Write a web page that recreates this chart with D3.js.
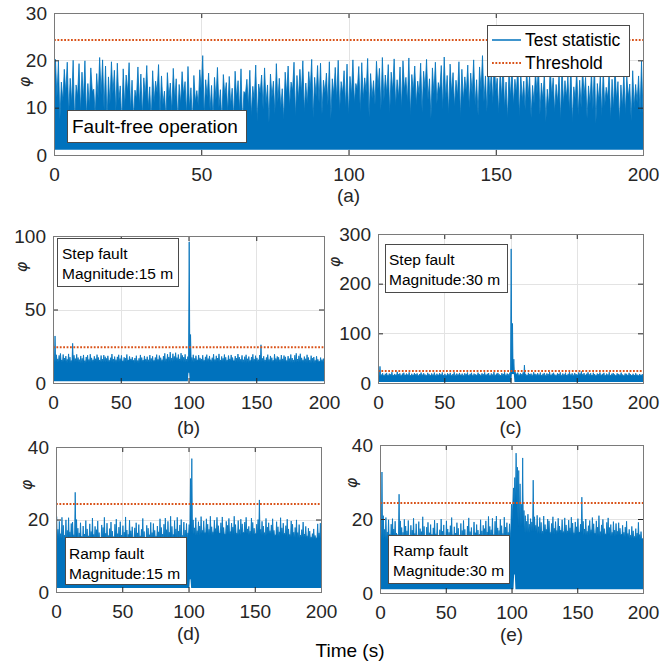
<!DOCTYPE html>
<html>
<head>
<meta charset="utf-8">
<script src="https://cdn.jsdelivr.net/npm/d3@7"></script>
<style>
  body { margin: 0; background: #fff; }
  svg { display: block; font-family: "Liberation Sans", Arial, Helvetica, sans-serif; }
</style>
</head>
<body>
<svg id="fig" width="672" height="664"></svg>
<script>
// ---- data -----------------------------------------------------------------
const timeTicks = [0, 50, 100, 150, 200];
const threshold = 24.3;

// per-second maxima of the test statistic, 0..199 s
const peaksA = [
  20.2,19.8,15.4,18.1,19.6,16.2,20.0,14.8,19.3,17.5,19.9,15.1,18.4,13.9,17.2,20.6,20.1,18.8,16.5,19.7,
  17.9,19.4,14.6,18.2,16.9,19.5,15.8,13.7,18.6,17.1,16.3,18.9,14.4,17.8,15.6,19.1,16.7,13.5,17.4,15.2,
  18.3,16.1,14.9,17.6,15.5,18.7,14.2,16.8,13.6,18.0,21.0,15.9,17.3,14.7,16.4,18.5,13.8,17.0,15.3,16.6,
  14.1,17.7,15.7,18.2,13.4,16.0,17.9,14.5,19.0,15.0,16.9,18.4,14.8,17.1,15.6,19.3,16.2,14.0,17.5,18.8,
  15.4,19.6,16.8,18.1,19.9,15.2,17.6,20.2,16.4,18.9,19.4,15.8,17.3,19.7,16.1,18.5,20.0,15.5,17.8,19.2,
  16.6,20.1,15.1,18.7,19.5,16.3,20.4,17.2,15.7,19.8,18.3,20.6,16.9,19.1,17.5,20.3,15.9,18.6,19.9,16.4,
  20.5,17.0,18.8,15.6,19.4,17.7,20.2,16.1,18.4,19.6,15.3,18.9,20.7,16.8,19.2,17.4,15.8,19.7,18.1,16.5,
  19.0,17.3,20.1,15.9,18.6,21.0,16.7,19.3,17.9,20.4,16.2,18.0,19.5,15.4,17.6,18.8,16.0,19.1,17.2,15.6,
  18.3,16.9,14.7,17.8,19.0,15.2,17.4,13.9,18.6,16.3,14.9,17.1,18.9,15.7,16.6,19.2,14.4,17.9,15.8,18.2,
  16.4,14.6,17.7,19.3,15.1,16.8,18.0,14.3,17.5,16.0,18.7,15.5,14.8,17.2,16.5,15.0,17.8,14.9,16.7,19.8
];
// per-second minima of the upper fluctuation in the fault-free run
const troughsA = [
  9.8,12.1,7.4,11.3,13.0,8.6,10.9,6.8,12.4,9.1,11.7,7.9,10.2,13.4,8.3,11.9,12.6,9.5,7.2,10.7,
  12.9,8.8,11.4,6.5,10.1,13.2,9.3,7.7,11.8,10.4,8.1,12.3,9.7,6.9,11.0,13.1,8.4,10.6,7.5,12.0,
  9.0,11.5,7.1,10.8,12.7,8.5,9.9,6.6,11.2,10.3,13.3,8.0,12.2,9.4,7.3,11.6,10.0,6.7,12.5,8.9,
  10.5,7.6,11.9,9.2,6.4,12.8,10.1,8.2,11.4,7.0,13.0,9.6,10.7,6.8,12.1,8.7,11.1,9.8,7.4,12.6,
  10.2,13.5,8.0,11.7,12.9,9.0,10.8,13.6,7.8,12.3,11.0,8.6,13.1,10.4,7.5,12.7,11.5,9.3,13.0,10.0,
  8.4,12.5,10.9,13.8,9.1,11.8,13.2,7.9,12.0,10.6,13.9,9.4,11.3,12.8,8.8,13.4,10.3,12.2,9.7,13.7,
  11.1,8.2,13.3,10.5,12.6,9.0,13.8,11.6,7.7,12.9,10.8,13.5,9.5,11.9,8.6,13.0,10.1,12.4,7.9,11.4,
  13.1,9.8,12.7,10.4,8.3,13.6,11.2,9.1,12.5,10.7,13.4,8.7,11.8,9.9,7.6,12.2,10.5,13.0,8.1,11.3,
  9.4,12.0,7.8,10.9,12.8,8.5,11.5,6.9,10.2,12.4,8.9,11.1,7.3,10.6,12.1,9.2,6.8,11.7,8.4,10.0,
  12.3,7.7,10.8,9.5,6.6,11.4,8.2,10.3,12.0,7.4,9.7,11.6,6.9,10.1,8.6,12.2,7.1,9.9,11.0,8.8
];
const peaksB = [
  17.5,32.0,19.2,16.4,18.8,20.1,15.7,19.4,17.0,18.3,16.1,19.8,17.6,15.3,27.0,18.9,16.6,19.5,17.3,15.9,
  18.4,16.8,19.1,15.2,17.7,18.9,16.0,19.6,17.1,15.8,18.2,16.5,19.3,17.4,15.6,18.7,16.2,19.0,17.9,16.7,
  18.5,15.4,17.2,19.7,16.3,18.0,15.9,17.8,19.2,16.6,18.8,15.1,17.5,16.9,19.4,15.7,18.1,16.4,17.6,15.5,
  17.0,18.6,15.3,16.8,19.1,17.3,15.6,18.4,16.2,17.9,15.8,19.0,16.7,18.2,15.4,17.4,19.3,16.1,18.7,17.2,
  15.9,18.3,20.2,16.5,19.6,17.7,21.0,16.9,19.9,18.1,20.6,17.3,19.4,16.4,20.3,18.8,17.6,19.5,16.2,18.0,
  96.0,33.0,17.4,19.2,16.7,18.6,15.8,19.0,17.1,16.3,18.9,15.5,17.8,19.3,16.6,18.4,15.9,17.2,19.6,16.0,
  18.5,17.0,19.8,15.6,18.1,16.8,19.4,17.5,15.7,18.7,16.4,19.1,17.3,15.2,18.3,16.9,19.7,17.6,16.1,18.8,
  15.8,17.9,19.2,16.5,18.0,15.4,17.7,19.5,16.2,18.6,17.1,15.9,19.0,26.0,16.8,18.2,15.6,17.4,19.3,16.0,
  18.4,17.2,15.5,19.6,16.7,18.1,17.5,15.9,19.0,16.4,18.7,17.8,15.3,18.3,16.6,19.4,17.0,15.7,18.9,20.2,
  16.3,18.5,19.9,17.1,15.8,18.0,16.5,19.2,17.4,15.6,18.6,16.9,17.7,15.4,18.2,16.1,14.8,17.3,15.9,16.6
];
const peaksC = [
  18.2,33.5,16.9,19.7,15.4,18.6,20.3,16.2,19.0,17.4,21.8,15.9,18.3,16.7,22.5,17.8,19.5,15.6,18.9,20.7,
  16.4,19.2,17.1,21.4,15.8,18.7,16.5,20.0,17.6,19.4,15.3,18.1,21.0,16.8,19.8,17.3,15.7,20.5,18.4,16.1,
  19.3,17.0,20.9,15.5,18.8,16.6,19.9,17.7,21.2,16.0,18.5,15.2,19.6,17.5,20.4,16.3,18.0,21.6,15.9,19.1,
  17.2,20.2,16.7,18.9,15.4,19.7,17.9,21.1,16.1,18.3,20.6,15.6,19.0,17.4,16.5,20.8,18.2,15.8,19.5,17.6,
  21.3,16.9,18.6,20.1,15.7,19.3,17.0,22.0,16.4,18.8,20.4,17.5,15.9,19.8,18.1,21.5,16.6,19.2,17.3,20.7,
  270.0,120.0,48.0,22.0,18.4,20.9,16.8,19.6,17.7,21.2,36.0,18.3,16.2,20.5,17.9,19.0,15.8,21.7,18.6,16.9,
  19.9,17.2,21.0,16.0,18.7,20.3,15.6,19.4,17.8,22.1,16.5,18.9,20.6,17.1,15.7,19.7,18.2,21.4,16.3,19.2,
  17.5,20.8,16.1,18.5,21.9,17.0,19.5,15.9,20.2,18.0,16.7,21.3,19.1,23.4,17.6,20.0,16.4,18.8,21.5,17.3,
  19.8,16.2,20.7,18.1,15.5,19.3,17.7,21.1,16.6,18.4,20.5,15.8,19.0,17.2,21.6,16.0,18.7,20.1,17.4,15.6,
  19.6,18.3,16.8,20.9,17.1,15.4,19.2,18.5,16.3,20.4,17.9,15.7,18.6,16.1,19.7,17.0,15.3,18.2,16.5,17.8
];
const peaksD = [
  20.8,17.3,19.5,16.1,20.6,18.4,15.7,19.9,17.0,20.5,16.6,18.9,19.3,15.8,27.5,20.0,17.6,16.3,19.1,15.4,
  18.2,16.0,19.7,17.4,15.5,18.8,16.7,20.4,15.9,18.1,17.2,19.6,16.4,15.1,18.5,17.8,20.6,16.2,19.0,15.6,
  17.5,19.3,16.8,15.3,18.7,20.1,16.1,17.9,19.4,15.7,18.3,16.5,20.7,17.1,15.9,19.8,16.9,18.0,15.2,17.7,
  19.1,16.3,18.6,15.5,17.3,20.3,16.7,15.0,18.4,17.6,15.8,19.2,16.4,18.9,17.0,15.4,18.2,16.6,20.2,17.8,
  16.0,18.7,20.4,17.2,19.5,16.5,20.9,18.1,15.9,19.7,17.4,20.6,16.8,18.5,20.0,15.6,19.3,17.1,18.9,16.3,
  18.6,31.3,36.8,19.9,17.7,20.5,16.9,19.4,18.2,20.8,17.0,19.6,16.4,20.2,18.7,17.3,20.9,18.0,16.6,19.8,
  17.5,20.6,18.3,16.2,19.1,20.7,17.8,16.0,19.5,18.4,20.3,16.7,19.0,17.9,20.9,18.6,16.3,19.7,17.2,20.1,
  18.8,16.5,19.3,20.6,17.4,18.1,16.8,20.4,19.2,17.6,16.1,18.7,20.0,25.4,17.3,19.5,18.2,16.4,20.3,17.9,
  19.1,16.9,18.5,20.2,17.0,15.8,19.4,18.0,16.6,20.5,17.7,19.0,16.2,18.3,20.1,17.4,15.9,19.6,18.7,16.5,
  17.8,19.9,16.4,18.6,15.7,17.2,19.3,16.0,18.1,15.5,17.6,16.8,15.2,16.1,17.4,15.6,14.9,18.8,16.3,19.0
];
const peaksE = [
  18.0,32.7,20.9,17.2,20.4,16.5,19.8,15.9,18.6,20.1,17.3,19.4,16.2,15.8,26.7,19.5,17.7,16.4,19.9,18.1,
  16.8,19.6,15.5,18.3,17.0,20.2,16.1,18.7,15.7,19.3,17.4,16.6,20.6,18.0,15.4,17.8,19.1,16.3,18.5,15.9,
  17.6,19.7,16.0,18.9,15.3,17.1,20.0,16.7,18.4,15.6,19.5,17.3,16.4,18.2,20.4,15.8,17.9,16.2,19.0,17.5,
  15.7,18.8,16.9,19.6,17.2,15.4,18.1,20.3,16.6,17.7,15.1,19.2,16.3,18.5,17.0,15.9,19.8,16.8,18.3,17.4,
  19.5,16.5,20.7,18.0,17.1,20.2,15.8,19.4,20.8,17.6,16.9,19.9,18.2,16.1,20.5,17.8,19.0,16.4,18.7,17.3,
  19.6,28.4,31.2,37.8,34.0,33.1,29.5,24.0,36.5,22.3,20.9,19.4,21.3,18.6,20.1,19.2,30.5,20.6,18.3,21.0,
  17.9,20.4,19.1,16.7,20.8,18.5,17.2,20.0,19.5,16.4,18.8,20.6,17.5,19.3,16.9,20.2,18.1,17.0,19.8,16.6,
  20.3,18.4,16.8,19.7,17.6,20.5,18.9,16.3,19.2,17.9,20.1,16.5,18.6,25.9,19.4,17.3,20.0,16.7,18.2,19.6,
  17.1,20.4,18.7,16.2,19.5,17.8,20.9,16.6,18.4,19.9,17.4,16.0,19.1,20.3,17.7,18.5,16.4,19.3,17.0,18.8,
  16.7,19.0,17.5,15.9,18.3,16.4,17.8,19.4,16.1,17.2,15.6,18.0,16.8,15.3,17.4,16.2,19.1,15.8,16.6,14.7
];

// top of the dense band (low level between spikes), one value per 5 s
const bandB = [14.2,14.6,14.0,14.4,13.8,14.2,14.7,14.1,14.5,13.9,14.3,14.8,14.0,14.4,14.2,14.6,14.1,14.7,15.0,14.5,
               14.2,14.8,14.4,14.1,14.6,14.3,14.9,14.5,14.0,14.4,14.2,14.7,14.1,14.5,14.3,13.9,14.2,14.0,13.8,14.1];
const bandC = [14.5,14.8,14.2,14.6,14.0,14.4,14.9,14.3,14.7,14.1,14.5,14.8,14.2,14.6,14.4,14.9,14.3,14.7,14.5,14.8,
               18.0,15.0,14.6,14.9,14.3,14.7,14.5,14.8,14.2,14.6,14.4,14.9,14.1,14.5,14.3,14.0,14.4,14.2,13.9,14.1];
const bandD = [14.6,14.2,14.8,14.4,14.0,14.7,14.3,14.5,14.1,14.6,14.2,14.9,14.4,14.0,14.5,14.7,14.3,14.8,14.5,14.6,
               16.0,15.6,16.2,15.8,16.4,15.9,16.1,15.7,16.3,15.8,16.0,15.6,15.9,15.4,15.7,15.2,14.9,15.1,14.6,14.8];
const bandE = [14.6,14.3,14.8,14.2,14.5,14.7,14.1,14.4,14.6,14.2,14.8,14.4,14.0,14.5,14.7,14.3,14.9,14.5,14.6,14.8,
               24.0,18.0,16.2,16.6,16.0,16.4,15.9,16.3,16.1,15.8,16.2,15.7,16.0,15.5,15.8,15.3,15.6,15.0,14.8,14.6];

// lower edge of the signal: [start time (s), value]
const floorA = [[0, 1.1]];
const floorB = [[0, 1.2], [100, 7.0], [101, 1.2]];
const floorC = [[0, 2.0], [101, 18.0], [103, 2.0]];
const floorD = [[0, 1.1], [101, 3.5], [102, 1.1]];
const floorE = [[0, 1.0], [102, 5.0], [103, 1.0]];

const yTicksA = [0, 10, 20, 30];
const yTicksB = [0, 50, 100];
const yTicksC = [0, 100, 200, 300];
const yTicksD = [0, 20, 40];
const yTicksE = [0, 20, 40];

const noteA = ["Fault-free operation"];
const noteB = ["Step fault", "Magnitude:15 m"];
const noteC = ["Step fault", "Magnitude:30 m"];
const noteD = ["Ramp fault", "Magnitude:15 m"];
const noteE = ["Ramp fault", "Magnitude:30 m"];

const legendLabels = ["Test statistic", "Threshold"];
const xAxisTitle = "Time (s)";
const yAxisTitle = "φ";

// ---- drawing --------------------------------------------------------------
const BLUE = "#0072BD", ORANGE = "#D95319", INK = "#262626";
const svg = d3.select("#fig");
const crisp = v => Math.round(v) + 0.5;

const panels = [
  { id: "a", peaks: peaksA, troughs: troughsA, floor: floorA, yMax: 30, yTicks: yTicksA, note: noteA,
    l: 54, r: 643, t: 13, b: 155, tag: "(a)", tagY: 195, phi: [24, 82],
    noteBox: { x: 67, y: 110, w: 179, h: 32, tx: 72, size: 19, lines: [126] } },
  { id: "b", peaks: peaksB, band: bandB, floor: floorB, yMax: 100, yTicks: yTicksB, note: noteB,
    l: 53, r: 324, t: 236, b: 383, tag: "(b)", tagY: 427, phi: [21, 267],
    noteBox: { x: 57, y: 238, w: 121, h: 48, tx: 62, size: 15.5, lines: [253, 273] } },
  { id: "c", peaks: peaksC, band: bandC, floor: floorC, yMax: 300, yTicks: yTicksC, note: noteC,
    l: 378, r: 643, t: 234, b: 383, tag: "(c)", tagY: 427, phi: [334, 262],
    noteBox: { x: 385, y: 244, w: 122, h: 48, tx: 389, size: 15.5, lines: [259, 279] } },
  { id: "d", peaks: peaksD, band: bandD, floor: floorD, yMax: 40, yTicks: yTicksD, note: noteD,
    l: 56, r: 321, t: 447, b: 592, tag: "(d)", tagY: 633, phi: [26, 485],
    noteBox: { x: 65, y: 537, w: 121, h: 47, tx: 69, size: 15.5, lines: [553, 573] } },
  { id: "e", peaks: peaksE, band: bandE, floor: floorE, yMax: 40, yTicks: yTicksE, note: noteE,
    l: 380, r: 643, t: 445, b: 593, tag: "(e)", tagY: 634, phi: [351, 483],
    noteBox: { x: 388, y: 535, w: 121, h: 48, tx: 393, size: 15.5, lines: [550, 570] } }
];

function drawPanel(p) {
  const g = svg.append("g").attr("class", "panel-" + p.id);
  const x = d3.scaleLinear().domain([0, 200]).range([p.l, p.r]);
  const y = d3.scaleLinear().domain([0, p.yMax]).range([p.b, p.t]);

  // grid
  g.append("g").selectAll("line").data(timeTicks.slice(1, -1)).join("line")
    .attr("x1", d => crisp(x(d))).attr("x2", d => crisp(x(d)))
    .attr("y1", p.t).attr("y2", p.b)
    .attr("stroke", "#e3e3e3").attr("stroke-width", 1);
  g.append("g").selectAll("line").data(p.yTicks.slice(1, -1)).join("line")
    .attr("y1", d => crisp(y(d))).attr("y2", d => crisp(y(d)))
    .attr("x1", p.l).attr("x2", p.r)
    .attr("stroke", "#e3e3e3").attr("stroke-width", 1);

  // clip region
  const clipId = "clip-" + p.id;
  svg.append("clipPath").attr("id", clipId).append("rect")
    .attr("x", p.l).attr("y", p.t).attr("width", p.r - p.l).attr("height", p.b - p.t);
  const plot = g.append("g").attr("clip-path", `url(#${clipId})`);

  const bandAt = i => p.band[Math.min(Math.floor(i / 5), p.band.length - 1)];
  const lowAt = i => (p.troughs ? p.troughs[Math.min(i, p.troughs.length - 1)] : bandAt(i));
  const floorAt = t => {
    let v = p.floor[0][1];
    for (const [k, val] of p.floor) if (t >= Math.floor(k)) v = val;
    return v;
  };

  // signal: low level -> per-second maximum -> low level, filled down to its lower edge
  const pts = [];
  p.peaks.forEach((v, i) => {
    pts.push({ t: i, v: lowAt(i) });
    pts.push({ t: i + 0.5, v: v });
  });
  pts.push({ t: 200, v: lowAt(199) });

  plot.append("path").datum(pts)
    .attr("fill", BLUE)
    .attr("d", d3.area().x(d => x(d.t)).y0(d => y(floorAt(Math.floor(d.t)))).y1(d => y(d.v)));
  plot.append("path").datum(pts)
    .attr("fill", "none").attr("stroke", BLUE).attr("stroke-width", 0.8)
    .attr("stroke-linejoin", "bevel")
    .attr("d", d3.line().x(d => x(d.t)).y(d => y(d.v)));

  // threshold
  plot.append("line")
    .attr("x1", p.l).attr("x2", p.r)
    .attr("y1", y(threshold)).attr("y2", y(threshold))
    .attr("stroke", ORANGE).attr("stroke-width", 2)
    .attr("stroke-dasharray", "1.8,1.6");

  // axes (ticks point inward, mirrored on top/right)
  const styleAxis = sel => {
    sel.select(".domain").remove();
    sel.selectAll(".tick line").attr("stroke", INK);
    sel.selectAll(".tick text").attr("fill", INK).attr("font-size", 19)
      .attr("font-family", '"Liberation Sans", Arial, sans-serif');
  };
  g.append("g").attr("transform", `translate(0,${p.b})`)
    .call(d3.axisBottom(x).tickValues(timeTicks).tickSize(-5).tickPadding(13).tickFormat(d3.format("d")))
    .call(styleAxis);
  g.append("g").attr("transform", `translate(0,${p.t})`)
    .call(d3.axisTop(x).tickValues(timeTicks).tickSize(-5).tickFormat(""))
    .call(styleAxis);
  g.append("g").attr("transform", `translate(${p.l},0)`)
    .call(d3.axisLeft(y).tickValues(p.yTicks).tickSize(-5).tickPadding(7).tickFormat(d3.format("d")))
    .call(styleAxis);
  g.append("g").attr("transform", `translate(${p.r},0)`)
    .call(d3.axisRight(y).tickValues(p.yTicks).tickSize(-5).tickFormat(""))
    .call(styleAxis);

  // frame
  g.append("rect")
    .attr("x", crisp(p.l)).attr("y", crisp(p.t))
    .attr("width", Math.round(p.r) - Math.round(p.l)).attr("height", Math.round(p.b) - Math.round(p.t))
    .attr("fill", "none").attr("stroke", "#7a7a7a").attr("stroke-width", 1);

  // annotation box
  const nb = p.noteBox;
  g.append("rect")
    .attr("x", crisp(nb.x)).attr("y", crisp(nb.y)).attr("width", nb.w).attr("height", nb.h)
    .attr("fill", "#fff").attr("stroke", "#4a4a4a").attr("stroke-width", 1);
  p.note.forEach((txt, k) => {
    g.append("text").attr("x", nb.tx).attr("y", nb.lines[k])
      .attr("dominant-baseline", "central")
      .attr("font-size", nb.size).attr("fill", "#000").text(txt);
  });

  // panel tag
  g.append("text").attr("x", (p.l + p.r) / 2).attr("y", p.tagY)
    .attr("text-anchor", "middle").attr("dominant-baseline", "central")
    .attr("font-size", 19).attr("fill", INK).text(p.tag);

  // y-axis symbol
  g.append("text")
    .attr("transform", `translate(${p.phi[0]},${p.phi[1]}) rotate(-90)`)
    .attr("text-anchor", "middle").attr("dominant-baseline", "central")
    .attr("font-family", '"DejaVu Sans", sans-serif')
    .attr("font-style", "italic").attr("font-size", 16).attr("fill", INK)
    .text(yAxisTitle);
}

panels.forEach(drawPanel);

// legend in panel (a)
const leg = svg.append("g").attr("class", "legend");
leg.append("rect").attr("x", 487.5).attr("y", 25.5).attr("width", 142).attr("height", 51)
  .attr("fill", "#fff").attr("stroke", "#4a4a4a").attr("stroke-width", 1);
leg.append("line").attr("x1", 492).attr("x2", 521).attr("y1", 40).attr("y2", 40)
  .attr("stroke", BLUE).attr("stroke-width", 1.5);
leg.append("line").attr("x1", 492).attr("x2", 521).attr("y1", 63).attr("y2", 63)
  .attr("stroke", ORANGE).attr("stroke-width", 2).attr("stroke-dasharray", "1.8,1.6");
legendLabels.forEach((txt, k) => {
  leg.append("text").attr("x", 525).attr("y", k === 0 ? 40 : 63)
    .attr("dominant-baseline", "central").attr("font-size", 17.5).attr("fill", "#000").text(txt);
});

// shared x-axis title
svg.append("text").attr("x", 350).attr("y", 650)
  .attr("text-anchor", "middle").attr("dominant-baseline", "central")
  .attr("font-size", 19).attr("fill", "#000").text(xAxisTitle);
</script>
</body>
</html>
